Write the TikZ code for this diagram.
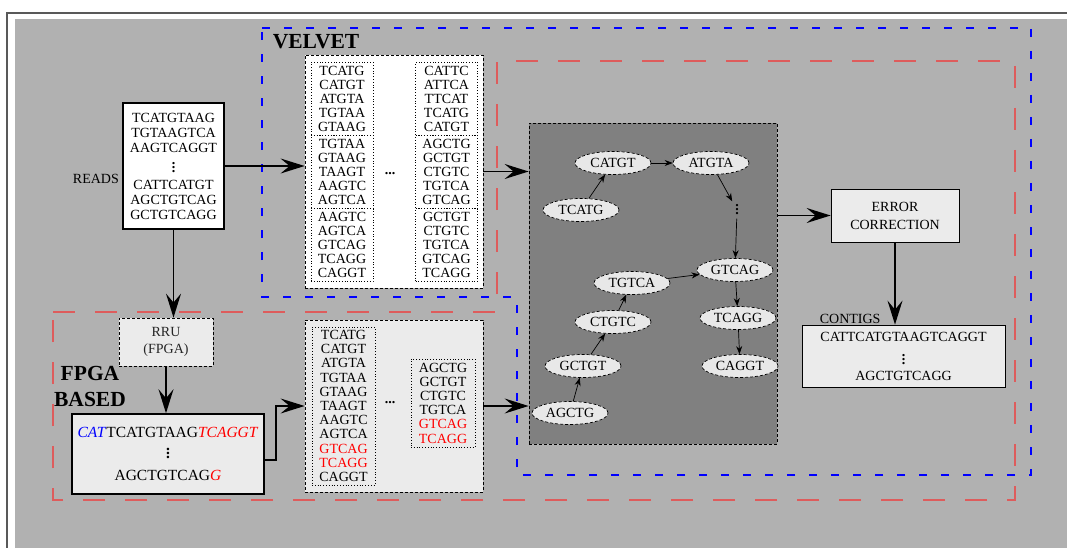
\documentclass[tikz,border=0pt]{standalone}
\usepackage{fontspec}
\setmainfont{Liberation Serif}
\usepackage{xcolor}
\usepackage{tikz}
\usetikzlibrary{arrows.meta, positioning, shapes.geometric}

\definecolor{panelgray}{RGB}{177,177,177}
\definecolor{graphgray}{RGB}{128,128,128}
\definecolor{lightbox}{RGB}{235,235,235}
\definecolor{fpgared}{RGB}{222,92,92}
\newcommand{\seqsize}{\fontsize{14}{14}\selectfont}
\newcommand{\redseq}[1]{\textcolor{red}{#1}}
\newcommand{\seqdots}{\vbox{\baselineskip4pt\lineskiplimit0pt
  \hbox{\bfseries.}\hbox{\bfseries.}\hbox{\bfseries.}}}

\begin{document}
\begin{tikzpicture}[x=1pt, y=-1pt,
          seqbox/.style={draw, line width=1.3pt, align=center,
                         font=\fontsize{14}{15}\selectfont},
          kmerbox/.style={draw, densely dashed, line width=0.8pt},
          kmers/.style={draw, dotted, line width=0.8pt, align=center,
                        inner sep=2pt, font=\seqsize, minimum width=62pt,
                        minimum height=73pt},
          kmer/.style={ellipse, draw, densely dashed, line width=0.7pt,
                       fill=gray!18, minimum width=76pt, minimum height=23pt,
                       inner sep=0pt, font=\seqsize},
          arr/.style={-{Stealth[length=24pt, width=15pt, inset=9pt]}, line width=1.5pt},
          link/.style={-{Stealth[length=8pt, width=6pt]}, line width=0.7pt},
          title/.style={font=\fontsize{21.5}{26}\selectfont\bfseries, align=center}
        ]
          % frame and panel
          \useasboundingbox (0,0) rectangle (1067,548);
          \fill[white] (0,0) rectangle (1067,548);
          \fill[panelgray] (15,19) rectangle (1067,548);
          \draw[line width=1.2pt, black!65] (7,548) -- (7,13) -- (1067,13);

          % the two pipelines
          \draw[blue, line width=2.5pt, dash pattern=on 8pt off 14pt]
            (262,28) -- (1031,28) -- (1031,475) -- (517,475) -- (517,297) -- (262,297) -- cycle;
          \draw[fpgared, line width=2pt, dash pattern=on 22pt off 20pt]
            (53,312) -- (497,312) -- (497,61) -- (1015,61) -- (1015,500) -- (53,500) -- cycle;
          \node[title] (velvettitle) at (316,42) {VELVET};
          \node[title] (fpgatitle) at (90,386) {FPGA\\BASED};

          % reads
          \node[seqbox, fill=white, minimum width=101pt, minimum height=126pt, inner sep=2pt] (reads)
            at (173.5,166) {TCATGTAAG\\TGTAAGTCA\\AAGTCAGGT\\[5pt]\seqdots\\[2pt]CATTCATGT\\AGCTGTCAG\\GCTGTCAGG};
          \node[font=\seqsize, left=0pt of reads.west, yshift=-13pt] (readslabel) {READS};

          % velvet k-mers
          \node[kmerbox, fill=white, minimum width=178pt, minimum height=233pt] (velvet) at (394,171.5) {};
          \node[kmers] (vk1) at (342,99) {TCATG\\CATGT\\ATGTA\\TGTAA\\GTAAG};
          \node[kmers] (vk2) at (342,172) {TGTAA\\GTAAG\\TAAGT\\AAGTC\\AGTCA};
          \node[kmers] (vk3) at (342,245) {AAGTC\\AGTCA\\GTCAG\\TCAGG\\CAGGT};
          \node[kmers] (vk4) at (446.5,99) {CATTC\\ATTCA\\TTCAT\\TCATG\\CATGT};
          \node[kmers] (vk5) at (446.5,172) {AGCTG\\GCTGT\\CTGTC\\TGTCA\\GTCAG};
          \node[kmers] (vk6) at (446.5,245) {GCTGT\\CTGTC\\TGTCA\\GTCAG\\TCAGG};
          \node[font=\seqsize\bfseries] (vdots1) at (390,174) {...};

          % de Bruijn graph
          \node[draw, densely dashed, fill=graphgray, line width=0.8pt,
                minimum width=248pt, minimum height=321pt] (graph) at (653,283.5) {};
          \node[kmer] (catgt) at (613,163) {CATGT};
          \node[kmer] (atgta) at (711,163) {ATGTA};
          \node[kmer] (tcatg) at (581,210) {TCATG};
          \node[font=\seqsize] (gdots) at (737,210) {\seqdots};
          \node[kmer] (gtcag) at (735,270) {GTCAG};
          \node[kmer] (tgtca) at (632,283) {TGTCA};
          \node[kmer] (ctgtc) at (613,322) {CTGTC};
          \node[kmer] (tcagg) at (738,318) {TCAGG};
          \node[kmer] (gctgt) at (583,366) {GCTGT};
          \node[kmer] (caggt) at (740,366) {CAGGT};
          \node[kmer] (agctg) at (570,413) {AGCTG};
          \draw[link] (tcatg) -- (catgt);
          \draw[link] (catgt) -- (atgta);
          \draw[link] (atgta) -- (gdots);
          \draw[link] (gdots) -- (gtcag);
          \draw[link] (tgtca) -- (gtcag);
          \draw[link] (ctgtc) -- (tgtca);
          \draw[link] (gctgt) -- (ctgtc);
          \draw[link] (agctg) -- (gctgt);
          \draw[link] (gtcag) -- (tcagg);
          \draw[link] (tcagg) -- (caggt);

          % error correction and contigs
          \node[draw, fill=lightbox, line width=0.8pt, minimum width=128pt, minimum height=53pt,
                align=center, font=\fontsize{14}{18}\selectfont] (correction) at (895,215.5) {ERROR\\CORRECTION};
          \node[draw, fill=lightbox, line width=0.8pt, minimum width=203pt, minimum height=62pt,
                align=center, font=\seqsize] (contigs) at (903.5,356)
            {CATTCATGTAAGTCAGGT\\[9pt]\seqdots\\[2pt]AGCTGTCAGG};
          \node[font=\seqsize, inner sep=1pt, above right=0pt and 17pt of contigs.north west] (contigslabel) {CONTIGS};

          % FPGA branch
          \node[draw, densely dashed, fill=lightbox, line width=0.8pt, minimum width=94pt, minimum height=48pt,
                align=center, font=\fontsize{14}{17}\selectfont, text=black!85] (rru) at (166,342) {RRU\\(FPGA)};
          \node[draw, fill=lightbox, line width=1.5pt, minimum width=192pt, minimum height=80pt,
                align=center, font=\fontsize{15.5}{17}\selectfont] (fpgareads) at (168,454)
            {\textcolor{blue}{\textit{CAT}}TCATGTAAG\textcolor{red}{\textit{TCAGGT}}\\[4pt]\seqdots\\[5pt]AGCTGTCAG\textcolor{red}{\textit{G}}};
          \node[kmerbox, fill=lightbox, minimum width=178pt, minimum height=172pt] (fkmers) at (394,406) {};
          \node[kmers, minimum width=63pt, minimum height=158pt, font=\fontsize{14}{14.2}\selectfont] (fk1) at (343.5,406)
            {TCATG\\CATGT\\ATGTA\\TGTAA\\GTAAG\\TAAGT\\AAGTC\\AGTCA\\\redseq{GTCAG}\\\redseq{TCAGG}\\CAGGT};
          \node[kmers, minimum width=64pt, minimum height=88pt, font=\fontsize{14}{14.2}\selectfont] (fk2) at (443,403)
            {AGCTG\\GCTGT\\CTGTC\\TGTCA\\\redseq{GTCAG}\\\redseq{TCAGG}};
          \node[font=\seqsize\bfseries] (fdots) at (390,403) {...};

          % connectors
          \draw[arr] (reads.east) -- (reads.east -| velvet.west);
          \draw[arr] (velvet.east) -- (velvet.east -| graph.west);
          \draw[arr] (graph.east |- correction.west) -- (correction.west);
          \draw[arr] (correction.south) -- (correction.south |- contigs.north);
          \draw[arr] (reads.south) -- (reads.south |- rru.north);
          \draw[arr] (rru.south) -- (rru.south |- fpgareads.north);
          \draw[arr] ([yshift=-6pt]fpgareads.east) -- ++(11,0) |- (fkmers.west);
          \draw[arr] (fkmers.east) -- (fkmers.east -| graph.west);
        \end{tikzpicture}
\end{document}
